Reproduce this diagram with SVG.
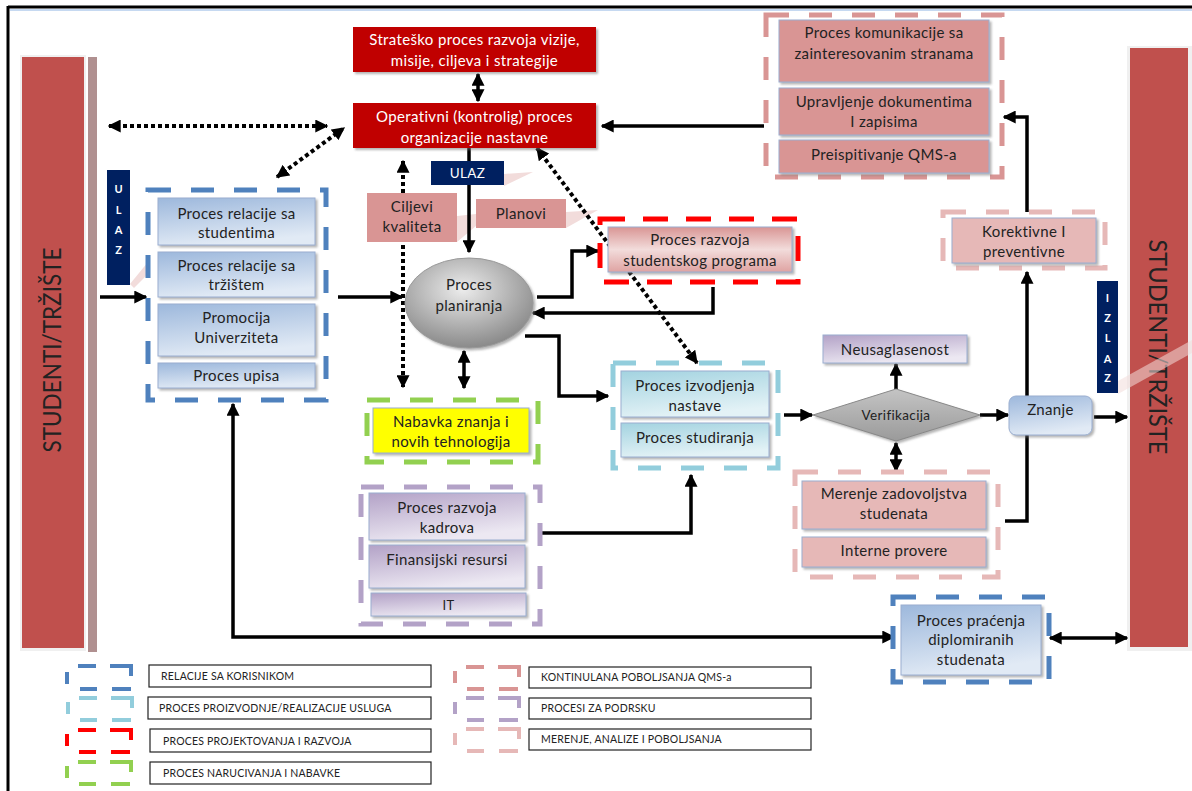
<svg xmlns="http://www.w3.org/2000/svg" width="1192" height="791" viewBox="0 0 1192 791">
<style>
text{font-family:Lato,"Open Sans","Liberation Sans",sans-serif;fill:#222;font-size:15px;letter-spacing:0.35px;text-anchor:middle}
.w{fill:#fff}
.bx{stroke:#9aaed0;stroke-width:1;filter:url(#sh)}
.red{fill:#c00000;filter:url(#sh)}
.grp{fill:none;stroke-width:5;stroke-dasharray:23 20}
.conn path{fill:none;stroke:#000;stroke-width:3.5}
.dot{stroke-dasharray:4 3!important;stroke-width:4!important}
.lg{fill:#fff;stroke:#222;stroke-width:1.2}
.lt{font-size:10.5px;letter-spacing:0.2px;text-anchor:start}
.li{fill:none;stroke-width:4;stroke-dasharray:0 11 18 14 31 13 19 15 17 18 12 6}
.navy{fill:#002060}
.shd{fill:#f2dcdb}
.lab{font-size:11px;font-weight:bold;letter-spacing:0}
</style>
<defs>
<filter id="sh" x="-10%" y="-10%" width="130%" height="140%"><feDropShadow dx="2" dy="2" stdDeviation="1" flood-color="#777" flood-opacity="0.55"/></filter>
<marker id="ah" viewBox="0 0 10 10" refX="9" refY="5" markerWidth="13" markerHeight="13" markerUnits="userSpaceOnUse" orient="auto-start-reverse"><path d="M0,0 L10,5 L0,10 z" fill="#000"/></marker>
<linearGradient id="gBlue" x1="0" y1="0" x2="0.3" y2="1"><stop offset="0" stop-color="#9db8dc"/><stop offset="1" stop-color="#e1eaf5"/></linearGradient>
<linearGradient id="gCyan" x1="0" y1="0" x2="0.3" y2="1"><stop offset="0" stop-color="#a3d3e0"/><stop offset="1" stop-color="#e3f2f6"/></linearGradient>
<linearGradient id="gPurp" x1="0" y1="0" x2="0.4" y2="1"><stop offset="0" stop-color="#b3a2c7"/><stop offset="1" stop-color="#ece8f2"/></linearGradient>
<linearGradient id="gPink" x1="0" y1="0" x2="0" y2="1"><stop offset="0" stop-color="#d99594"/><stop offset="0.5" stop-color="#f2dcdb"/><stop offset="1" stop-color="#dfa3a2"/></linearGradient>
<radialGradient id="gGray" cx="0.45" cy="0.35" r="0.65"><stop offset="0" stop-color="#ececec"/><stop offset="1" stop-color="#8a8a8a"/></radialGradient>
<linearGradient id="gDia" x1="0" y1="0" x2="0" y2="1"><stop offset="0" stop-color="#c4c4c4"/><stop offset="1" stop-color="#9a9a9a"/></linearGradient>
</defs>

<rect width="1192" height="791" fill="#fff"/>
<path d="M8,7 H1192" stroke="#000" stroke-width="3"/>
<path d="M10,10 H1192" stroke="#c6d9f1" stroke-width="2"/>
<path d="M8,6 V791" stroke="#000" stroke-width="3"/>

<!-- decorative shadows -->
<polygon class="shd" points="130,284 148,262 148,274 134,288"/>
<polygon class="shd" points="504,174 533,172 504,186"/>
<polygon class="shd" points="457,216 476,214 476,226 457,242"/>
<polygon class="shd" points="566,212 598,210 566,228"/>

<g id="studenti-left">
<rect x="88" y="57" width="9" height="595" fill="#b09090"/>
<rect x="20" y="55" width="66" height="596" fill="#f0f0f0"/>
<rect x="22" y="57" width="62" height="591" fill="#c0504d"/>
<text transform="translate(61,350) rotate(-90)" style="font-size:25px;letter-spacing:0" textLength="205" lengthAdjust="spacingAndGlyphs">STUDENTI/TRŽIŠTE</text>
</g>

<g id="studenti-right">
<rect x="1127" y="46" width="65" height="605" fill="#f0f0f0"/>
<rect x="1130" y="48" width="58" height="599" fill="#c0504d"/>
<text transform="translate(1149,347) rotate(90)" style="font-size:25px;letter-spacing:0" textLength="215" lengthAdjust="spacingAndGlyphs">STUDENTI/TRŽIŠTE</text>
<polygon points="1118,381 1192,340 1192,353 1118,394" fill="#f2dcdb" opacity="0.55"/>
</g>

<g class="conn" id="connectors">
<path class="dot" d="M109,126 H327" marker-start="url(#ah)" marker-end="url(#ah)"/>
<path class="dot" d="M277,177 L344,128" marker-start="url(#ah)" marker-end="url(#ah)"/>
<path d="M478,74 V101" marker-start="url(#ah)" marker-end="url(#ah)"/>
<path d="M764,126 H602" marker-end="url(#ah)"/>
<path d="M469,148 V252" marker-end="url(#ah)"/>
<path class="dot" d="M403,161 V387" marker-start="url(#ah)" marker-end="url(#ah)"/>
<path d="M100,297 H146" marker-end="url(#ah)"/>
<path d="M338,297 H402" marker-end="url(#ah)"/>
<path d="M537,297 H572 V251 H598" marker-end="url(#ah)"/>
<path d="M713,287 V313 H533" marker-end="url(#ah)"/>
<path d="M525,336 H559 V396 H608" marker-end="url(#ah)"/>
<path d="M464,351 V388" marker-start="url(#ah)" marker-end="url(#ah)"/>
<path class="dot" d="M537,148 L697,363" marker-start="url(#ah)" marker-end="url(#ah)"/>
<path d="M784,415 H812" marker-end="url(#ah)"/>
<path d="M896,389 V364" marker-end="url(#ah)"/>
<path d="M896,443 V471" marker-start="url(#ah)" marker-end="url(#ah)"/>
<path d="M980,415 H1008" marker-end="url(#ah)"/>
<path d="M1094,417 H1127" marker-end="url(#ah)"/>
<path d="M1005,521 H1027 V435"/>
<path d="M1027,396 V272" marker-end="url(#ah)"/>
<path d="M1027,212 V117 H1004" marker-end="url(#ah)"/>
<path d="M233,404 V637 H894" marker-start="url(#ah)" marker-end="url(#ah)"/>
<path d="M1050,638 H1127" marker-start="url(#ah)" marker-end="url(#ah)"/>
<path d="M542,533 H691 V475" marker-end="url(#ah)"/>
</g>

<g id="ulaz-left">
<rect class="navy" x="107" y="170" width="23" height="115"/>
<text class="w lab" x="118.5" y="193">U</text>
<text class="w lab" x="118.5" y="214">L</text>
<text class="w lab" x="118.5" y="234">A</text>
<text class="w lab" x="118.5" y="254">Z</text>
</g>

<g id="izlaz-right">
<rect class="navy" x="1097" y="281" width="21" height="112"/>
<text class="w lab" x="1107.5" y="302">I</text>
<text class="w lab" x="1107.5" y="322">Z</text>
<text class="w lab" x="1107.5" y="342">L</text>
<text class="w lab" x="1107.5" y="363">A</text>
<text class="w lab" x="1107.5" y="382">Z</text>
</g>

<g id="strateski">
<rect class="red" x="353" y="27" width="243" height="45"/>
<text class="w" x="474.5" y="45">Strateško proces razvoja vizije,</text>
<text class="w" x="474.5" y="66">misije, ciljeva i strategije</text>
</g>

<g id="operativni">
<rect class="red" x="353" y="103" width="243" height="45"/>
<text class="w" x="474.5" y="122">Operativni (kontrolig) proces</text>
<text class="w" x="474.5" y="143">organizacije nastavne</text>
</g>

<g id="ulaz-mid">
<rect class="navy" x="431" y="161" width="73" height="24"/>
<text class="w" x="467.5" y="178" style="font-size:13.5px">ULAZ</text>
</g>

<g id="ciljevi">
<rect x="367" y="193" width="90" height="49" fill="#d99594"/>
<text x="412" y="212">Ciljevi</text>
<text x="412" y="232">kvaliteta</text>
</g>

<g id="planovi">
<rect x="476" y="199" width="90" height="29" fill="#d99594"/>
<text x="521" y="219">Planovi</text>
</g>

<g id="relacije-grupa">
<rect class="grp" x="148" y="190" width="178" height="210" stroke="#4f81bd"/>
<rect class="bx" x="158" y="198" width="157" height="47" fill="url(#gBlue)"/>
<text x="236.5" y="219">Proces relacije sa</text>
<text x="236.5" y="238">studentima</text>
<rect class="bx" x="158" y="252" width="157" height="45" fill="url(#gBlue)"/>
<text x="236.5" y="271">Proces relacije sa</text>
<text x="236.5" y="290">tržištem</text>
<rect class="bx" x="158" y="304" width="157" height="52" fill="url(#gBlue)"/>
<text x="236.5" y="323">Promocija</text>
<text x="236.5" y="343">Univerziteta</text>
<rect class="bx" x="158" y="363" width="157" height="25" fill="url(#gBlue)"/>
<text x="236.5" y="381">Proces upisa</text>
</g>

<g id="planiranje">
<ellipse cx="469" cy="303" rx="64" ry="45" fill="url(#gGray)" stroke="#999" stroke-width="1" filter="url(#sh)"/>
<text x="469" y="290">Proces</text>
<text x="469" y="311">planiranja</text>
</g>

<g id="studentski-program">
<rect class="grp" x="600" y="219" width="198" height="63" stroke="#ff0000" style="stroke-dasharray:25 18"/>
<rect class="bx" x="608" y="227" width="184" height="45" fill="url(#gPink)"/>
<text x="700" y="245">Proces razvoja</text>
<text x="700" y="266">studentskog programa</text>
</g>

<g id="nabavka">
<rect class="grp" x="367" y="400" width="171" height="62" stroke="#92d050"/>
<rect x="373" y="408" width="156" height="45" fill="#ffff00" stroke="#9aaed0" filter="url(#sh)"/>
<text x="451" y="427">Nabavka znanja i</text>
<text x="451" y="447">novih tehnologija</text>
</g>

<g id="izvodjenje-grupa">
<rect class="grp" x="613" y="363" width="165" height="105" stroke="#92cddc"/>
<rect class="bx" x="621" y="371" width="148" height="46" fill="url(#gCyan)"/>
<text x="695" y="391">Proces izvodjenja</text>
<text x="695" y="411">nastave</text>
<rect class="bx" x="621" y="423" width="148" height="34" fill="url(#gCyan)"/>
<text x="695" y="443">Proces studiranja</text>
</g>

<g id="podrska-grupa">
<rect class="grp" x="361" y="487" width="179" height="137" stroke="#b3a2c7"/>
<rect class="bx" x="369" y="493" width="156" height="47" fill="url(#gPurp)"/>
<text x="447" y="513">Proces razvoja</text>
<text x="447" y="533">kadrova</text>
<rect class="bx" x="369" y="545" width="156" height="43" fill="url(#gPurp)"/>
<text x="447" y="565">Finansijski resursi</text>
<rect class="bx" x="371" y="593" width="155" height="23" fill="url(#gPurp)"/>
<text x="448.5" y="610" style="font-size:13px">IT</text>
</g>

<g id="verifikacija">
<polygon points="813,415 896,389 980,415 896,441" fill="url(#gDia)" stroke="#888" filter="url(#sh)"/>
<text x="896" y="420" style="font-size:13.5px">Verifikacija</text>
</g>

<g id="neusaglasenost">
<rect class="bx" x="823" y="335" width="144" height="28" fill="url(#gPurp)"/>
<text x="895" y="355">Neusaglasenost</text>
</g>

<g id="merenje-grupa">
<rect class="grp" x="795" y="472" width="203" height="105" stroke="#e6b8b7"/>
<rect class="bx" x="802" y="481" width="184" height="48" fill="#e6b8b7"/>
<text x="894" y="499">Merenje zadovoljstva</text>
<text x="894" y="519">studenata</text>
<rect class="bx" x="802" y="537" width="184" height="30" fill="#e6b8b7"/>
<text x="894" y="556">Interne provere</text>
</g>

<g id="znanje">
<rect x="1009" y="396" width="83" height="39" rx="7" fill="url(#gBlue)" stroke="#9aaed0" filter="url(#sh)"/>
<text x="1050.5" y="415">Znanje</text>
</g>

<g id="korektivne">
<rect class="grp" x="943" y="212" width="162" height="56" stroke="#e6b8b7"/>
<rect class="bx" x="952" y="218" width="144" height="45" fill="#e6b8b7"/>
<text x="1024" y="237">Korektivne I</text>
<text x="1024" y="257">preventivne</text>
</g>

<g id="qms-grupa">
<rect class="grp" x="766" y="15" width="236" height="162" stroke="#d99594"/>
<rect class="bx" x="779" y="20" width="210" height="62" fill="#d99594"/>
<text x="884" y="38">Proces komunikacije sa</text>
<text x="884" y="59">zainteresovanim stranama</text>
<rect class="bx" x="779" y="88" width="210" height="47" fill="#d99594"/>
<text x="884" y="107">Upravljenje dokumentima</text>
<text x="884" y="127">I zapisima</text>
<rect class="bx" x="779" y="140" width="210" height="33" fill="#d99594"/>
<text x="884" y="160">Preispitivanje QMS-a</text>
</g>

<g id="pracenje">
<rect class="grp" x="893" y="597" width="156" height="85" stroke="#4f81bd"/>
<rect class="bx" x="901" y="605" width="140" height="70" fill="url(#gBlue)"/>
<text x="971" y="626">Proces praćenja</text>
<text x="971" y="645">diplomiranih</text>
<text x="971" y="665">studenata</text>
</g>

<g id="legenda">
<rect class="li" x="67" y="666" width="64" height="23" stroke="#4f81bd"/>
<rect class="lg" x="149" y="665" width="282" height="22"/>
<text class="lt" x="161" y="680">RELACIJE SA KORISNIKOM</text>
<rect class="li" x="68" y="698" width="64" height="22" stroke="#92cddc"/>
<rect class="lg" x="148" y="697" width="283" height="22"/>
<text class="lt" x="159" y="712">PROCES PROIZVODNJE/REALIZACIJE USLUGA</text>
<rect class="li" x="67" y="730" width="64" height="22" stroke="#ff0000"/>
<rect class="lg" x="150" y="729" width="281" height="23"/>
<text class="lt" x="163" y="745">PROCES PROJEKTOVANJA I RAZVOJA</text>
<rect class="li" x="67" y="762" width="64" height="22" stroke="#92d050"/>
<rect class="lg" x="150" y="762" width="281" height="22"/>
<text class="lt" x="163" y="777">PROCES NARUCIVANJA I NABAVKE</text>
<rect class="li" x="455" y="667" width="64" height="22" stroke="#d99594"/>
<rect class="lg" x="529" y="667" width="282" height="21"/>
<text class="lt" x="541" y="681">KONTINULANA POBOLJSANJA QMS-a</text>
<rect class="li" x="455" y="698" width="64" height="22" stroke="#b3a2c7"/>
<rect class="lg" x="529" y="698" width="282" height="21"/>
<text class="lt" x="541" y="712">PROCESI ZA PODRSKU</text>
<rect class="li" x="455" y="729" width="64" height="22" stroke="#e6b8b7"/>
<rect class="lg" x="529" y="729" width="282" height="21"/>
<text class="lt" x="541" y="743">MERENJE, ANALIZE I POBOLJSANJA</text>
</g>
</svg>
